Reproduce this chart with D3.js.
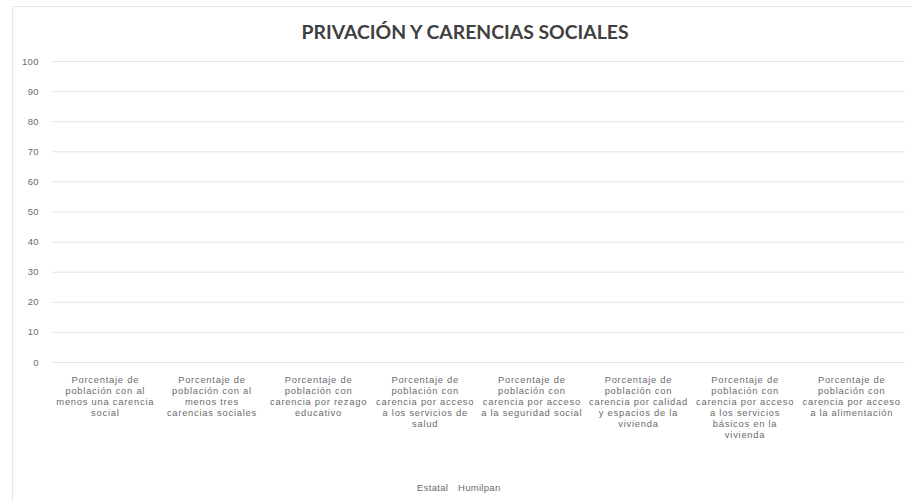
<!DOCTYPE html>
<html><head><meta charset="utf-8">
<script src="https://cdn.jsdelivr.net/npm/d3@7"></script>
<style>
html,body{margin:0;padding:0;background:#fff;}
svg{display:block;}
</style></head>
<body>
<svg id="chart" width="911" height="502"></svg>
<script>
const title = "PRIVACIÓN Y CARENCIAS SOCIALES";
const categories = [
  ["Porcentaje de","población con al","menos una carencia","social"],
  ["Porcentaje de","población con al","menos tres","carencias sociales"],
  ["Porcentaje de","población con","carencia por rezago","educativo"],
  ["Porcentaje de","población con","carencia por acceso","a los servicios de","salud"],
  ["Porcentaje de","población con","carencia por acceso","a la seguridad social"],
  ["Porcentaje de","población con","carencia por calidad","y espacios de la","vivienda"],
  ["Porcentaje de","población con","carencia por acceso","a los servicios","básicos en la","vivienda"],
  ["Porcentaje de","población con","carencia por acceso","a la alimentación"]
];
const seriesNames = ["Estatal","Humilpan"];
const estatal = [0,0,0,0,0,0,0,0];
const humilpan = [0,0,0,0,0,0,0,0];
const yTicks = [0,10,20,30,40,50,60,70,80,90,100];

const svg = d3.select("#chart");
const font = "'Liberation Sans', Arial, sans-serif";

// chart frame
svg.append("rect").attr("x",12.5).attr("y",6.5).attr("width",920).attr("height",520)
  .attr("fill","#fff").attr("stroke","#e6e6e6").attr("stroke-width",1);

const x = d3.scaleBand().domain(d3.range(categories.length)).range([52,905]);
const y = d3.scaleLinear().domain([0,100]).range([362,61]);

svg.append("text").attr("x",465).attr("y",39).attr("text-anchor","middle")
  .attr("font-family","Lato, 'Open Sans', sans-serif").attr("font-weight","bold").attr("font-size",18)
  .attr("fill","#404040").attr("textLength",327).attr("lengthAdjust","spacingAndGlyphs")
  .text(title);

const yAxis = d3.axisLeft(y).tickValues(yTicks).tickSize(-(905-52)).tickPadding(13);
const gy = svg.append("g").attr("transform","translate(52,0)").call(yAxis);
gy.select(".domain").remove();
gy.selectAll(".tick line").attr("stroke","#e4e4e4").attr("stroke-width",1);
gy.selectAll(".tick text").attr("font-family",font).attr("font-size",9.5)
  .attr("letter-spacing",0.4).attr("fill","#6b6b6b");

// bars (zero values)
const inner = d3.scaleBand().domain(seriesNames).range([0,x.bandwidth()]).paddingInner(0.1).paddingOuter(0.6);
const colors = ["#4472c4","#ed7d31"];
[estatal,humilpan].forEach((vals,si)=>{
  svg.append("g").selectAll("rect").data(vals).join("rect")
    .attr("x",(d,i)=>x(i)+inner(seriesNames[si]))
    .attr("width",inner.bandwidth())
    .attr("y",d=>y(d)).attr("height",d=>y(0)-y(d))
    .attr("fill",colors[si]);
});

// category labels
const cg = svg.append("g");
categories.forEach((lines,i)=>{
  const t = cg.append("text").attr("text-anchor","middle")
    .attr("font-family",font).attr("font-size",9.4).attr("letter-spacing",0.75)
    .attr("fill","#6b6b6b");
  lines.forEach((ln,j)=>{
    t.append("tspan").attr("x",x(i)+x.bandwidth()/2).attr("y",383+j*11).text(ln);
  });
});

// legend
const lg = svg.append("g");
lg.append("text").attr("x",417).attr("y",491).attr("font-family",font).attr("font-size",9.5)
  .attr("letter-spacing",0.3).attr("fill","#6b6b6b").text(seriesNames[0]);
lg.append("text").attr("x",458).attr("y",491).attr("font-family",font).attr("font-size",9.5)
  .attr("letter-spacing",0.3).attr("fill","#6b6b6b").text(seriesNames[1]);
</script>
</body></html>
